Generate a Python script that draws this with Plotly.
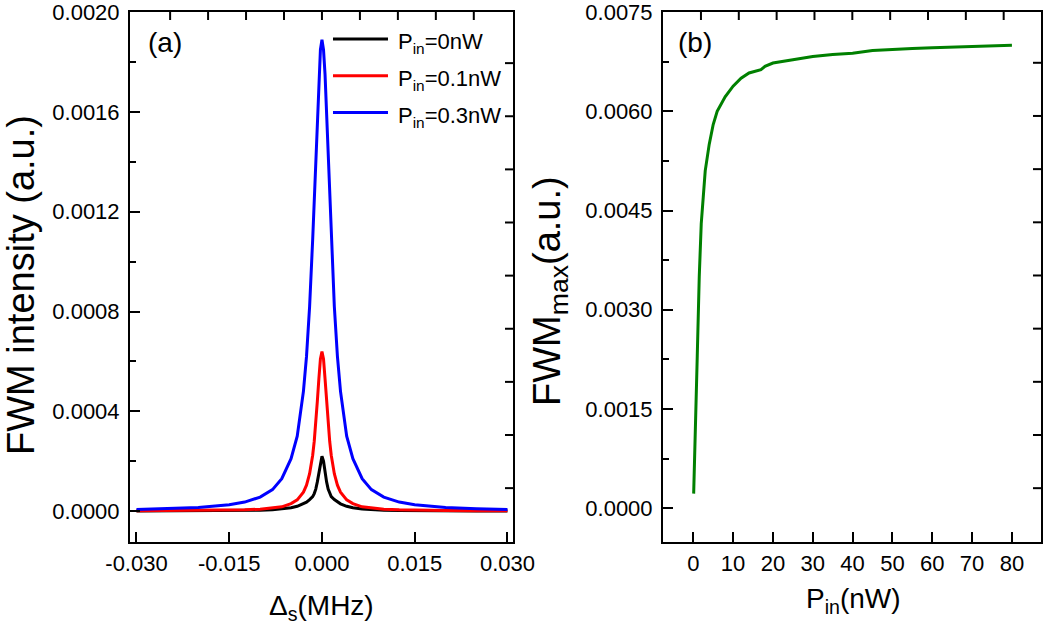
import plotly.graph_objects as go

# (a) FWM spectra vs signal detuning
detuning = [-0.030, -0.025, -0.020, -0.015, -0.0125, -0.010, -0.008, -0.0065, -0.005, -0.004,
            -0.003, -0.0025, -0.002, -0.0015, -0.00125, -0.001, -0.00075, -0.0005, -0.00025, 0.0,
            0.00025, 0.0005, 0.00075, 0.001, 0.00125, 0.0015, 0.002, 0.0025, 0.003, 0.004,
            0.005, 0.0065, 0.008, 0.010, 0.0125, 0.015, 0.020, 0.025, 0.030]

fwm_0nw = [0.0000003, 0.0000005, 0.0000009, 0.0000016, 0.0000024, 0.0000035, 0.0000055, 0.000008,
           0.000013, 0.000019, 0.000029, 0.000036, 0.000046, 0.000058, 0.00007, 0.000088, 0.000117,
           0.000155, 0.0002, 0.00022,
           0.0002, 0.000155, 0.000117, 0.000088, 0.00007, 0.000058, 0.000046, 0.000036, 0.000029,
           0.000019, 0.000013, 0.000008, 0.0000055, 0.0000035, 0.0000024, 0.0000016, 0.0000009,
           0.0000005, 0.0000003]

fwm_01nw = [0.0000009, 0.0000012, 0.000002, 0.0000034, 0.000005, 0.0000076, 0.000012, 0.000017,
            0.00003, 0.000045, 0.000076, 0.000104, 0.00015, 0.000224, 0.00028, 0.00035, 0.00044,
            0.00053, 0.00061, 0.00064,
            0.00061, 0.00053, 0.00044, 0.00035, 0.00028, 0.000224, 0.00015, 0.000104, 0.000076,
            0.000045, 0.00003, 0.000017, 0.000012, 0.0000076, 0.000005, 0.0000034, 0.000002,
            0.0000012, 0.0000009]

fwm_03nw = [0.000006, 0.000009, 0.000014, 0.000025, 0.000036, 0.000056, 0.000086, 0.00013,
            0.00021, 0.00030, 0.00048, 0.00062, 0.00082, 0.00109, 0.00125, 0.00143, 0.00160,
            0.00175, 0.00185, 0.00189,
            0.00185, 0.00175, 0.00160, 0.00143, 0.00125, 0.00109, 0.00082, 0.00062, 0.00048,
            0.00030, 0.00021, 0.00013, 0.000086, 0.000056, 0.000036, 0.000025, 0.000014,
            0.000009, 0.000006]

# (b) peak FWM vs input power
p_in = [0.1, 0.5, 1, 1.5, 2, 2.5, 3, 4, 5, 6, 7, 8, 10, 12, 14, 15, 16, 17, 18, 20,
        25, 30, 35, 40, 45, 50, 55, 60, 65, 70, 75, 80]
fwm_max = [0.00022, 0.0013, 0.0023, 0.0035, 0.0043, 0.0047, 0.0051, 0.0055, 0.0058, 0.0060,
           0.00612, 0.00622, 0.00638, 0.0065, 0.00658, 0.0066, 0.00661, 0.00663, 0.00668, 0.00673,
           0.00678, 0.00683, 0.00686, 0.00688, 0.00692, 0.00694, 0.00695, 0.00696, 0.00697,
           0.00698, 0.00699, 0.00700]

det_ticks = [-0.030, -0.015, 0.0, 0.015, 0.030]
det_ticktext = ["-0.030", "-0.015", "0.000", "0.015", "0.030"]

legend_names = ["P<sub>in</sub>=0nW", "P<sub>in</sub>=0.1nW", "P<sub>in</sub>=0.3nW"]
colors = ["black", "red", "blue"]

FONT = "Liberation Sans, Arial, sans-serif"
tickfont = dict(family=FONT, size=22, color="black")

fig = go.Figure()

for ys, col in zip([fwm_0nw, fwm_01nw, fwm_03nw], colors):
    fig.add_trace(go.Scatter(x=detuning, y=ys, mode="lines", line=dict(color=col, width=3),
                             xaxis="x", yaxis="y", showlegend=False))

fig.add_trace(go.Scatter(x=p_in, y=fwm_max, mode="lines", line=dict(color="#008000", width=3),
                         xaxis="x2", yaxis="y2", showlegend=False))

frame = dict(showline=True, linewidth=2, linecolor="black", mirror=True, showgrid=False,
             zeroline=False, ticks="inside", tickwidth=2, tickcolor="black", ticklen=10,
             tickfont=tickfont, automargin=False, ticklabeloverflow="allow")

dom_y = [1 - 542 / 624, 1 - 12 / 624]
dom_a = [130 / 1050, 513 / 1050]
dom_b = [663 / 1050, 1041 / 1050]

xr_a = [-0.03105, 0.0309]
yr_a = [-0.000124, 0.002001]
xr_b = [-7.6, 87.3]
yr_b = [-0.000512, 0.007502]

fig.update_layout(
    width=1050, height=624,
    margin=dict(l=0, r=0, t=0, b=0),
    plot_bgcolor="white", paper_bgcolor="white",
    template="none",
    showlegend=False,
    xaxis=dict(frame, domain=dom_a, anchor="y", range=xr_a, tickvals=det_ticks,
               ticktext=det_ticktext, ticklabelstandoff=1),
    yaxis=dict(frame, domain=dom_y, anchor="x", range=yr_a, tick0=0, dtick=0.0004,
               tickformat=".4f", ticklabelstandoff=4,
               minor=dict(ticks="inside", ticklen=6, tickwidth=2, tickcolor="black",
                          dtick=0.0002, showgrid=False)),
    xaxis2=dict(frame, domain=dom_b, anchor="y2", range=xr_b, tick0=0, dtick=10,
                ticklabelstandoff=1),
    yaxis2=dict(frame, domain=dom_y, anchor="x2", range=yr_b, tick0=0, dtick=0.0015,
                tickformat=".4f", ticklabelstandoff=4,
                minor=dict(ticks="inside", ticklen=6, tickwidth=2, tickcolor="black",
                           dtick=0.00075, showgrid=False)),
)

# Origin-style frame: the top and right edges carry their own evenly spaced ticks
tick_style = dict(color="black", width=2)
frame_ticks = [
    # (x axis, y axis, side, first tick, spacing, count, tick length in domain units)
    ("x", "y", "top", -4 * 0.00614, 0.00614, 9, 8 / 530),
    ("x", "y", "right", 0.000092, 0.000213, 9, 8 / 383),
    ("x2", "y2", "top", 1.93, 9.5, 9, 8 / 530),
    ("x2", "y2", "right", 0.000302, 0.000804, 9, 8 / 378),
]
for xa, ya, side, t0, step, n, ln in frame_ticks:
    for k in range(n):
        v = t0 + k * step
        if side == "top":
            fig.add_shape(type="line", xref=xa, yref=ya + " domain", x0=v, x1=v,
                          y0=1, y1=1 - ln, line=tick_style)
        else:
            fig.add_shape(type="line", xref=xa + " domain", yref=ya, x0=1, x1=1 - ln,
                          y0=v, y1=v, line=tick_style)

# hand-made legend inside panel (a)
leg_y = [0.9492, 0.8797, 0.8102]
for name, col, ly in zip(legend_names, colors, leg_y):
    fig.add_shape(type="line", xref="x domain", yref="y domain", x0=0.530, x1=0.6736,
                  y0=ly, y1=ly, line=dict(color=col, width=3))
    fig.add_annotation(text=name, xref="x domain", yref="y domain", x=0.6945, y=ly,
                       xanchor="left", yanchor="middle", yshift=-4, showarrow=False,
                       font=dict(family=FONT, size=22, color="black"))

titles = [
    dict(text="FWM intensity (a.u.)", x=21 / 1050, y=1 - 285 / 624, textangle=-90, size=38),
    dict(text="FWM<sub>max</sub>(a.u.)", x=550 / 1050, y=1 - 291 / 624, textangle=-90, size=38),
    dict(text="Δ<sub>s</sub>(MHz)", x=321 / 1050, y=1 - 607 / 624, textangle=0, size=28),
    dict(text="P<sub>in</sub>(nW)", x=853 / 1050, y=1 - 600 / 624, textangle=0, size=28),
    dict(text="(a)", x=165 / 1050, y=1 - 43 / 624, textangle=0, size=28),
    dict(text="(b)", x=695 / 1050, y=1 - 43 / 624, textangle=0, size=28),
]
for t in titles:
    fig.add_annotation(text=t["text"], xref="paper", yref="paper", x=t["x"], y=t["y"],
                       xanchor="center", yanchor="middle", textangle=t["textangle"],
                       showarrow=False, font=dict(family=FONT, size=t["size"], color="black"))

# the page body has a default 8px margin; drop it so the figure sits at the window corner
fig.write_html("out.html", config={"displayModeBar": False},
               post_script="document.body.style.margin='0px';")
